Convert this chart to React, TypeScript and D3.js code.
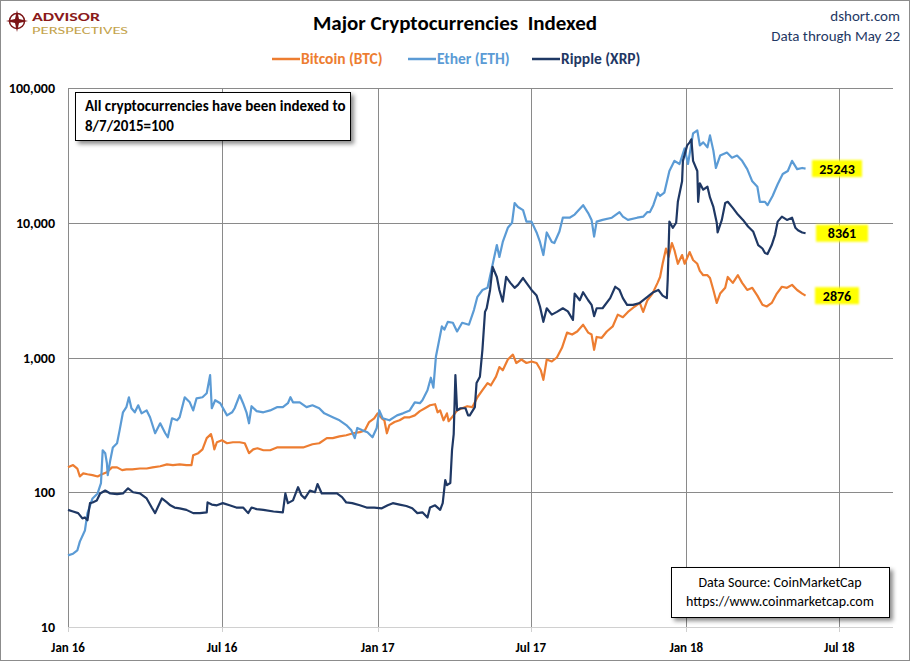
import React, { useEffect, useRef } from 'react';
import * as d3 from 'd3';

// --- Data (index, 8/7/2015 = 100) ---
const btcData: [string, number][] = [
  ['2016-01-01', 153], ['2016-01-07', 159], ['2016-01-12', 150], ['2016-01-15', 131], ['2016-01-19', 138],
  ['2016-01-24', 136], ['2016-01-30', 134], ['2016-02-05', 131], ['2016-02-10', 136], ['2016-02-16', 141],
  ['2016-02-22', 153], ['2016-02-28', 153], ['2016-03-05', 146], ['2016-03-10', 148], ['2016-03-17', 148],
  ['2016-03-26', 150], ['2016-04-03', 150], ['2016-04-10', 153], ['2016-04-19', 156], ['2016-04-27', 161],
  ['2016-05-04', 159], ['2016-05-12', 161], ['2016-05-20', 159], ['2016-05-26', 159], ['2016-05-28', 188],
  ['2016-06-03', 195], ['2016-06-08', 208], ['2016-06-13', 252], ['2016-06-18', 270], ['2016-06-20', 243],
  ['2016-06-22', 208], ['2016-06-25', 235], ['2016-07-01', 243], ['2016-07-07', 231], ['2016-07-14', 235],
  ['2016-07-22', 235], ['2016-07-28', 231], ['2016-08-02', 195], ['2016-08-07', 208], ['2016-08-12', 212],
  ['2016-08-19', 205], ['2016-08-27', 205], ['2016-09-04', 215], ['2016-09-11', 215], ['2016-09-23', 215],
  ['2016-10-05', 215], ['2016-10-16', 227], ['2016-10-24', 231], ['2016-11-02', 252], ['2016-11-09', 252],
  ['2016-11-17', 260], ['2016-11-25', 265], ['2016-12-03', 274], ['2016-12-11', 279], ['2016-12-17', 288],
  ['2016-12-22', 332], ['2016-12-28', 354], ['2017-01-01', 385], ['2017-01-06', 354], ['2017-01-09', 342],
  ['2017-01-12', 274], ['2017-01-15', 315], ['2017-01-21', 332], ['2017-01-27', 342], ['2017-02-02', 360],
  ['2017-02-08', 360], ['2017-02-14', 372], ['2017-02-20', 400], ['2017-02-26', 420], ['2017-03-04', 442],
  ['2017-03-10', 450], ['2017-03-13', 392], ['2017-03-16', 405], ['2017-03-20', 342], ['2017-03-24', 385],
  ['2017-03-26', 337], ['2017-03-30', 360], ['2017-04-05', 405], ['2017-04-11', 420], ['2017-04-17', 435],
  ['2017-04-23', 428], ['2017-04-29', 507], ['2017-05-05', 572], ['2017-05-11', 646], ['2017-05-15', 622],
  ['2017-05-21', 721], ['2017-05-25', 850], ['2017-05-29', 804], ['2017-06-04', 966], ['2017-06-10', 1050],
  ['2017-06-14', 910], ['2017-06-20', 966], ['2017-06-26', 910], ['2017-07-02', 935], ['2017-07-08', 910],
  ['2017-07-13', 804], ['2017-07-16', 683], ['2017-07-20', 966], ['2017-07-26', 935], ['2017-08-01', 1000],
  ['2017-08-07', 1180], ['2017-08-13', 1530], ['2017-08-19', 1480], ['2017-08-25', 1560], ['2017-09-01', 1750],
  ['2017-09-07', 1530], ['2017-09-11', 1480], ['2017-09-14', 1140], ['2017-09-17', 1420], ['2017-09-23', 1400],
  ['2017-09-29', 1560], ['2017-10-06', 1700], ['2017-10-12', 2080], ['2017-10-18', 1990], ['2017-10-24', 2180],
  ['2017-11-01', 2390], ['2017-11-07', 2540], ['2017-11-11', 2180], ['2017-11-16', 2660], ['2017-11-22', 2980],
  ['2017-11-28', 3580], ['2017-12-01', 3960], ['2017-12-04', 4960], ['2017-12-08', 6440], ['2017-12-11', 5570],
  ['2017-12-15', 7070], ['2017-12-18', 6250], ['2017-12-22', 4960], ['2017-12-27', 5760], ['2017-12-30', 4960],
  ['2018-01-05', 6060], ['2018-01-09', 5290], ['2018-01-14', 4960], ['2018-01-17', 4400], ['2018-01-21', 4080],
  ['2018-01-26', 4080], ['2018-01-29', 3890], ['2018-02-02', 3170], ['2018-02-06', 2540], ['2018-02-10', 2980],
  ['2018-02-16', 3290], ['2018-02-19', 3960], ['2018-02-25', 3580], ['2018-03-03', 4080], ['2018-03-08', 3580],
  ['2018-03-14', 3170], ['2018-03-20', 3290], ['2018-03-26', 2880], ['2018-04-01', 2460], ['2018-04-06', 2390],
  ['2018-04-12', 2540], ['2018-04-18', 2980], ['2018-04-24', 3350], ['2018-04-30', 3290], ['2018-05-06', 3460],
  ['2018-05-12', 3170], ['2018-05-18', 2980], ['2018-05-22', 2876],
];

const ethData: [string, number][] = [
  ['2016-01-01', 34], ['2016-01-07', 35], ['2016-01-12', 37], ['2016-01-15', 43], ['2016-01-21', 52],
  ['2016-01-24', 70], ['2016-01-30', 90], ['2016-02-05', 98], ['2016-02-09', 117], ['2016-02-11', 205],
  ['2016-02-14', 195], ['2016-02-16', 164], ['2016-02-17', 134], ['2016-02-20', 173], ['2016-02-23', 215],
  ['2016-02-28', 231], ['2016-03-02', 288], ['2016-03-06', 392], ['2016-03-10', 428], ['2016-03-13', 507],
  ['2016-03-16', 420], ['2016-03-20', 392], ['2016-03-24', 442], ['2016-03-28', 385], ['2016-04-03', 405],
  ['2016-04-07', 360], ['2016-04-13', 274], ['2016-04-19', 325], ['2016-04-25', 274], ['2016-04-28', 256],
  ['2016-05-03', 354], ['2016-05-09', 342], ['2016-05-12', 360], ['2016-05-18', 507], ['2016-05-24', 465],
  ['2016-05-28', 405], ['2016-06-01', 498], ['2016-06-08', 507], ['2016-06-13', 543], ['2016-06-17', 740],
  ['2016-06-19', 420], ['2016-06-23', 482], ['2016-06-29', 458], ['2016-07-07', 372], ['2016-07-13', 392],
  ['2016-07-16', 420], ['2016-07-22', 525], ['2016-07-26', 458], ['2016-07-30', 392], ['2016-08-02', 325],
  ['2016-08-05', 435], ['2016-08-11', 400], ['2016-08-19', 392], ['2016-08-27', 405], ['2016-09-04', 428],
  ['2016-09-11', 428], ['2016-09-17', 458], ['2016-09-20', 507], ['2016-09-23', 465], ['2016-10-01', 465],
  ['2016-10-09', 428], ['2016-10-16', 442], ['2016-10-24', 420], ['2016-10-30', 385], ['2016-11-09', 360],
  ['2016-11-17', 342], ['2016-11-25', 315], ['2016-12-01', 288], ['2016-12-05', 252], ['2016-12-08', 300],
  ['2016-12-14', 288], ['2016-12-20', 279], ['2016-12-26', 256], ['2016-12-31', 300], ['2017-01-03', 405],
  ['2017-01-07', 354], ['2017-01-15', 342], ['2017-01-24', 372], ['2017-01-31', 385], ['2017-02-08', 405],
  ['2017-02-14', 465], ['2017-02-20', 458], ['2017-02-23', 482], ['2017-03-01', 572], ['2017-03-05', 708],
  ['2017-03-08', 598], ['2017-03-11', 1018], ['2017-03-18', 1700], ['2017-03-21', 1610], ['2017-03-25', 1840],
  ['2017-03-31', 1810], ['2017-04-05', 1560], ['2017-04-11', 1810], ['2017-04-19', 1750], ['2017-04-25', 2260],
  ['2017-04-29', 2820], ['2017-05-05', 3170], ['2017-05-11', 3290], ['2017-05-17', 4900], ['2017-05-22', 6830],
  ['2017-05-25', 5570], ['2017-05-29', 7200], ['2017-06-04', 9170], ['2017-06-09', 10000], ['2017-06-12', 14000],
  ['2017-06-16', 13100], ['2017-06-22', 12400], ['2017-06-26', 10200], ['2017-07-02', 10200], ['2017-07-08', 8470],
  ['2017-07-12', 7200], ['2017-07-16', 5760], ['2017-07-20', 8470], ['2017-07-26', 7200], ['2017-07-29', 7070],
  ['2017-08-04', 8620], ['2017-08-08', 10900], ['2017-08-16', 10900], ['2017-08-22', 11500], ['2017-09-01', 13500],
  ['2017-09-07', 11800], ['2017-09-11', 10500], ['2017-09-14', 7900], ['2017-09-17', 10200], ['2017-09-24', 10500],
  ['2017-10-05', 10900], ['2017-10-14', 12000], ['2017-10-18', 11100], ['2017-10-24', 10500], ['2017-11-04', 10900],
  ['2017-11-11', 11100], ['2017-11-16', 12000], ['2017-11-19', 12000], ['2017-11-23', 13500], ['2017-11-28', 16700],
  ['2017-12-01', 15800], ['2017-12-06', 16700], ['2017-12-12', 24200], ['2017-12-18', 28800], ['2017-12-24', 27300],
  ['2017-12-30', 35600], ['2018-01-03', 27300], ['2018-01-09', 46000], ['2018-01-14', 48500], ['2018-01-17', 37500],
  ['2018-01-21', 39500], ['2018-01-26', 36300], ['2018-01-29', 44500], ['2018-02-02', 34300], ['2018-02-05', 25500],
  ['2018-02-10', 31500], ['2018-02-18', 33200], ['2018-02-24', 30400], ['2018-03-02', 31500], ['2018-03-08', 28800],
  ['2018-03-14', 25000], ['2018-03-20', 20300], ['2018-03-26', 18500], ['2018-03-29', 14300], ['2018-04-04', 14300],
  ['2018-04-07', 13500], ['2018-04-13', 15800], ['2018-04-19', 19300], ['2018-04-25', 23000], ['2018-05-01', 24200],
  ['2018-05-06', 28800], ['2018-05-12', 25000], ['2018-05-18', 25500], ['2018-05-22', 25243],
];

const xrpData: [string, number][] = [
  ['2016-01-01', 74], ['2016-01-07', 72], ['2016-01-13', 70], ['2016-01-18', 64], ['2016-01-21', 65],
  ['2016-01-24', 62], ['2016-01-27', 83], ['2016-01-30', 84], ['2016-02-04', 87], ['2016-02-08', 98],
  ['2016-02-14', 103], ['2016-02-20', 98], ['2016-02-28', 97], ['2016-03-06', 98], ['2016-03-12', 107],
  ['2016-03-18', 100], ['2016-03-26', 98], ['2016-04-03', 90], ['2016-04-09', 77], ['2016-04-13', 70],
  ['2016-04-16', 77], ['2016-04-21', 90], ['2016-04-27', 84], ['2016-05-01', 80], ['2016-05-06', 77],
  ['2016-05-12', 76], ['2016-05-20', 74], ['2016-05-28', 70], ['2016-06-05', 70], ['2016-06-13', 71],
  ['2016-06-14', 84], ['2016-06-19', 81], ['2016-06-25', 80], ['2016-07-02', 83], ['2016-07-10', 80],
  ['2016-07-18', 77], ['2016-07-26', 77], ['2016-08-01', 70], ['2016-08-05', 77], ['2016-08-11', 75],
  ['2016-08-19', 74], ['2016-08-31', 72], ['2016-09-11', 71], ['2016-09-14', 98], ['2016-09-17', 83],
  ['2016-09-23', 87], ['2016-09-29', 109], ['2016-10-03', 95], ['2016-10-07', 90], ['2016-10-13', 103],
  ['2016-10-19', 100], ['2016-10-22', 115], ['2016-10-27', 98], ['2016-11-03', 98], ['2016-11-14', 98],
  ['2016-11-20', 92], ['2016-11-25', 84], ['2016-12-02', 83], ['2016-12-11', 80], ['2016-12-19', 77],
  ['2016-12-28', 77], ['2017-01-06', 76], ['2017-01-13', 80], ['2017-01-19', 83], ['2017-01-27', 81],
  ['2017-02-04', 79], ['2017-02-11', 76], ['2017-02-17', 70], ['2017-02-23', 71], ['2017-03-01', 65],
  ['2017-03-04', 77], ['2017-03-10', 80], ['2017-03-16', 74], ['2017-03-19', 83], ['2017-03-22', 123],
  ['2017-03-24', 113], ['2017-03-28', 117], ['2017-03-30', 205], ['2017-04-01', 270], ['2017-04-03', 740],
  ['2017-04-05', 405], ['2017-04-09', 420], ['2017-04-15', 420], ['2017-04-18', 372], ['2017-04-20', 372],
  ['2017-04-26', 428], ['2017-04-28', 646], ['2017-05-02', 721], ['2017-05-05', 1150], ['2017-05-08', 2180],
  ['2017-05-10', 2320], ['2017-05-14', 3170], ['2017-05-17', 4700], ['2017-05-22', 3960], ['2017-05-25', 3170],
  ['2017-05-29', 2600], ['2017-06-02', 3960], ['2017-06-07', 3580], ['2017-06-12', 3290], ['2017-06-16', 3460],
  ['2017-06-22', 3890], ['2017-06-26', 3580], ['2017-07-02', 3170], ['2017-07-08', 2880], ['2017-07-12', 2390],
  ['2017-07-16', 1840], ['2017-07-20', 2320], ['2017-07-26', 2080], ['2017-08-01', 2180], ['2017-08-08', 2320],
  ['2017-08-14', 2200], ['2017-08-20', 1900], ['2017-08-22', 2980], ['2017-08-28', 2660], ['2017-09-01', 3050],
  ['2017-09-07', 2660], ['2017-09-11', 2460], ['2017-09-14', 2030], ['2017-09-17', 2320], ['2017-09-24', 2320],
  ['2017-10-03', 2760], ['2017-10-09', 3350], ['2017-10-14', 3170], ['2017-10-18', 2760], ['2017-10-23', 2460],
  ['2017-10-30', 2460], ['2017-11-07', 2540], ['2017-11-16', 2820], ['2017-11-23', 3050], ['2017-11-29', 3170],
  ['2017-12-04', 2880], ['2017-12-09', 2760], ['2017-12-10', 3770], ['2017-12-12', 10200], ['2017-12-16', 9170],
  ['2017-12-20', 10000], ['2017-12-22', 14300], ['2017-12-27', 20300], ['2017-12-28', 28800], ['2018-01-02', 37500],
  ['2018-01-05', 39500], ['2018-01-07', 41600], ['2018-01-09', 28800], ['2018-01-14', 24200], ['2018-01-15', 14300],
  ['2018-01-17', 19600], ['2018-01-21', 17600], ['2018-01-26', 18500], ['2018-01-29', 15400], ['2018-02-02', 13100],
  ['2018-02-06', 10000], ['2018-02-07', 8470], ['2018-02-12', 10500], ['2018-02-16', 14000], ['2018-02-19', 14300],
  ['2018-02-25', 12900], ['2018-03-03', 11500], ['2018-03-09', 10500], ['2018-03-15', 9380], ['2018-03-21', 8620],
  ['2018-03-27', 6830], ['2018-04-01', 6440], ['2018-04-04', 5960], ['2018-04-07', 5860], ['2018-04-12', 6830],
  ['2018-04-16', 8170], ['2018-04-19', 10200], ['2018-04-24', 11100], ['2018-04-30', 10500], ['2018-05-06', 10900],
  ['2018-05-10', 9170], ['2018-05-13', 8800], ['2018-05-18', 8470], ['2018-05-22', 8361],
];

const seriesNames = ['Bitcoin (BTC)', 'Ether (ETH)', 'Ripple (XRP)'];
const seriesColors = ['#ED7D31', '#5B9BD5', '#1F3864'];
const endLabels = ['2876', '25243', '8361'];
const yTicks = [10, 100, 1000, 10000, 100000];
const xTickDates = ['2016-01-01', '2016-07-01', '2017-01-01', '2017-07-01', '2018-01-01', '2018-07-01'];
const xTickLabels = ['Jan 16', 'Jul 16', 'Jan 17', 'Jul 17', 'Jan 18', 'Jul 18'];

const FONT = "Carlito, Lato, 'Open Sans', sans-serif";

const App: React.FC = () => {
  const svgRef = useRef<SVGSVGElement | null>(null);

  useEffect(() => {
    if (!svgRef.current) return;
    const width = 910;
    const height = 661;
    const plot = { left: 68, right: 891, top: 88, bottom: 627 };

    const svg = d3.select(svgRef.current);
    svg.selectAll('*').remove();

    const parse = d3.utcParse('%Y-%m-%d');
    const xScale = d3.scaleUtc()
      .domain([parse('2016-01-01') as Date, parse('2018-08-31') as Date])
      .range([plot.left, plot.right]);
    const yScale = d3.scaleLog().domain([10, 100000]).range([plot.bottom, plot.top]);

    // filters
    const defs = svg.append('defs');
    const shadow = defs.append('filter').attr('id', 'shadow').attr('x', '-10%').attr('y', '-10%').attr('width', '130%').attr('height', '150%');
    shadow.append('feDropShadow').attr('dx', 3).attr('dy', 3).attr('stdDeviation', 2)
      .attr('flood-color', '#000').attr('flood-opacity', 0.45);
    const soft = defs.append('filter').attr('id', 'soft').attr('x', '-20%').attr('y', '-30%').attr('width', '140%').attr('height', '160%');
    soft.append('feGaussianBlur').attr('stdDeviation', 1.2);

    svg.append('rect').attr('width', width).attr('height', height).attr('fill', '#fff');
    svg.append('rect').attr('x', 0.5).attr('y', 0.5).attr('width', width - 1).attr('height', height - 1)
      .attr('fill', 'none').attr('stroke', '#8c8c8c');

    // --- Logo ---
    const logo = svg.append('g');
    logo.append('circle').attr('cx', 17).attr('cy', 21).attr('r', 7.5).attr('fill', 'none').attr('stroke', '#7B1416').attr('stroke-width', 1.5);
    logo.append('path')
      .attr('d', 'M17,10 L19,19 L28,21 L19,23 L17,32 L15,23 L6,21 L15,19 Z')
      .attr('fill', '#7B1416');
    logo.append('text').attr('x', 32).attr('y', 21).attr('font-family', FONT).attr('font-weight', 'bold')
      .attr('font-size', 12).attr('fill', '#8B1A1A')
      .attr('textLength', 68).attr('lengthAdjust', 'spacingAndGlyphs').text('ADVISOR');
    logo.append('text').attr('x', 32).attr('y', 34).attr('font-family', FONT)
      .attr('font-size', 11).attr('fill', '#C4A44D')
      .attr('textLength', 96).attr('lengthAdjust', 'spacingAndGlyphs').text('PERSPECTIVES');

    // --- Title and header ---
    svg.append('text').attr('x', 455).attr('y', 30).attr('text-anchor', 'middle')
      .attr('font-family', FONT).attr('font-weight', 'bold').attr('font-size', 21).attr('fill', '#000')
      .style('white-space', 'pre')
      .text('Major Cryptocurrencies  Indexed');
    svg.append('text').attr('x', 900).attr('y', 21).attr('text-anchor', 'end')
      .attr('font-family', FONT).attr('font-size', 15).attr('fill', '#1F3864').text('dshort.com');
    svg.append('text').attr('x', 900).attr('y', 41).attr('text-anchor', 'end')
      .attr('font-family', FONT).attr('font-size', 15).attr('fill', '#1F3864').text('Data through May 22');

    // --- Legend ---
    const legendX = [272, 408, 532];
    seriesNames.forEach((name, i) => {
      const lg = svg.append('g').attr('transform', `translate(${legendX[i]},59)`);
      lg.append('line').attr('x1', 0).attr('x2', 28).attr('y1', 0).attr('y2', 0)
        .attr('stroke', seriesColors[i]).attr('stroke-width', 2.5);
      lg.append('text').attr('x', 29).attr('y', 5).attr('font-family', FONT).attr('font-weight', 'bold')
        .attr('font-size', 15.5).attr('fill', seriesColors[i]).text(name);
    });

    // --- Grid ---
    const g = svg.append('g');
    yTicks.slice(1).forEach(t => {
      g.append('line').attr('x1', plot.left).attr('x2', plot.right + 2)
        .attr('y1', Math.round(yScale(t)) + 0.5).attr('y2', Math.round(yScale(t)) + 0.5)
        .attr('stroke', '#8a8a8a').attr('stroke-width', 1);
    });
    xTickDates.slice(1).forEach(d => {
      const x = Math.round(xScale(parse(d) as Date)) + 0.5;
      g.append('line').attr('x1', x).attr('x2', x).attr('y1', plot.top).attr('y2', plot.bottom)
        .attr('stroke', '#8a8a8a').attr('stroke-width', 1);
    });
    // x axis line + ticks
    g.append('line').attr('x1', plot.left).attr('x2', plot.right + 2)
      .attr('y1', plot.bottom + 0.5).attr('y2', plot.bottom + 0.5).attr('stroke', '#d0d0d0');
    xTickDates.forEach(d => {
      const x = Math.round(xScale(parse(d) as Date)) + 0.5;
      g.append('line').attr('x1', x).attr('x2', x).attr('y1', plot.bottom).attr('y2', plot.bottom + 5)
        .attr('stroke', '#d0d0d0');
    });
    // y axis line
    g.append('line').attr('x1', plot.left + 0.5).attr('x2', plot.left + 0.5)
      .attr('y1', plot.top).attr('y2', plot.bottom).attr('stroke', '#8a8a8a');

    // --- Axis labels ---
    g.selectAll('.ylab').data(yTicks).enter().append('text')
      .attr('x', 55).attr('y', d => yScale(d) + 5).attr('text-anchor', 'end')
      .attr('font-family', FONT).attr('font-weight', 'bold').attr('font-size', 14).attr('fill', '#000')
      .text(d => d3.format(',')(d));
    g.selectAll('.xlab').data(xTickDates).enter().append('text')
      .attr('x', (d) => xScale(parse(d) as Date)).attr('y', 652).attr('text-anchor', 'middle')
      .attr('font-family', FONT).attr('font-weight', 'bold').attr('font-size', 13).attr('fill', '#000')
      .text((_d, i) => xTickLabels[i]);

    // --- Lines ---
    const line = d3.line<[string, number]>()
      .x(d => xScale(parse(d[0]) as Date))
      .y(d => yScale(d[1]));
    const allSeries = [btcData, ethData, xrpData];
    allSeries.forEach((s, i) => {
      g.append('path').datum(s).attr('fill', 'none')
        .attr('stroke', seriesColors[i]).attr('stroke-width', 2.2)
        .attr('stroke-linejoin', 'round').attr('d', line);
    });

    // --- End value labels ---
    const labelX = [815, 812, 816];
    const labelW = [44, 50, 52];
    allSeries.forEach((s, i) => {
      const last = s[s.length - 1];
      const y = yScale(last[1]);
      g.append('rect').attr('x', labelX[i]).attr('y', y - 8.5).attr('width', labelW[i]).attr('height', 17)
        .attr('fill', '#FFFF00').attr('filter', 'url(#soft)');
      g.append('text').attr('x', labelX[i] + labelW[i] / 2).attr('y', y + 5).attr('text-anchor', 'middle')
        .attr('font-family', FONT).attr('font-weight', 'bold').attr('font-size', 14).attr('fill', '#000')
        .text(endLabels[i]);
    });

    // --- Annotation box ---
    svg.append('rect').attr('x', 75.5).attr('y', 92.5).attr('width', 275).attr('height', 48)
      .attr('fill', '#fff').attr('stroke', '#000').attr('filter', 'url(#shadow)');
    svg.append('text').attr('x', 85).attr('y', 111).attr('font-family', FONT).attr('font-weight', 'bold')
      .attr('font-size', 15).attr('fill', '#000').text('All cryptocurrencies have been indexed to');
    svg.append('text').attr('x', 85).attr('y', 131).attr('font-family', FONT).attr('font-weight', 'bold')
      .attr('font-size', 15).attr('fill', '#000').text('8/7/2015=100');

    // --- Source box ---
    svg.append('rect').attr('x', 671.5).attr('y', 567.5).attr('width', 218).attr('height', 50)
      .attr('fill', '#fff').attr('stroke', '#000').attr('filter', 'url(#shadow)');
    svg.append('text').attr('x', 780).attr('y', 587).attr('text-anchor', 'middle').attr('font-family', FONT)
      .attr('font-size', 14).attr('fill', '#000').text('Data Source: CoinMarketCap');
    svg.append('text').attr('x', 780).attr('y', 606).attr('text-anchor', 'middle').attr('font-family', FONT)
      .attr('font-size', 14).attr('fill', '#000').text('https://www.coinmarketcap.com');
  }, []);

  return (
    <div style={{ position: 'absolute', left: 0, top: 0 }}>
      <svg ref={svgRef} width={910} height={661} style={{ display: 'block' }} />
    </div>
  );
};

export default App;
